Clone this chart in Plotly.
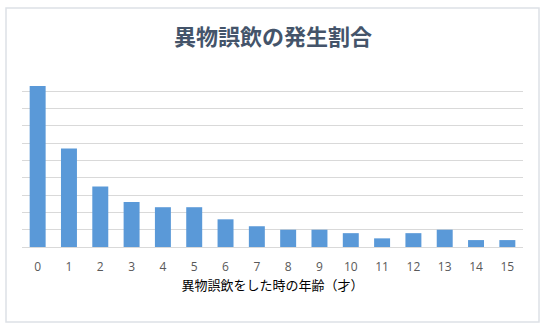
import plotly.graph_objects as go

# Age at the time of swallowing a foreign object (years)
ages = [str(a) for a in range(16)]
# Share of cases per age (%)
share = [9.3, 5.7, 3.5, 2.6, 2.3, 2.3, 1.6, 1.2, 1.0, 1.0, 0.8, 0.5, 0.8, 1.0, 0.4, 0.4]

title_text = "異物誤飲の発生割合"
x_title = "異物誤飲をした時の年齢（才）"

W, H = 546, 329
L, R, T, B = 22, 23, 74, 82

fig = go.Figure(
    go.Bar(
        x=ages,
        y=share,
        marker=dict(color="#5a99d8", line=dict(width=0)),
        hoverinfo="x+y",
    )
)

fig.update_layout(
    width=W,
    height=H,
    margin=dict(l=L, r=R, t=T, b=B),
    paper_bgcolor="white",
    plot_bgcolor="white",
    bargap=0.49,
    showlegend=False,
    title=dict(
        text=f"<b>{title_text}</b>",
        x=0.5,
        xanchor="center",
        y=1 - 37 / H,
        yanchor="middle",
        font=dict(family="Noto Sans CJK JP", size=22, color="#44546A"),
    ),
    xaxis=dict(
        type="category",
        showgrid=False,
        showline=False,
        ticks="outside",
        ticklen=9,
        tickcolor="rgba(0,0,0,0)",
        tickfont=dict(family="Open Sans", size=12, color="#595959"),
        title=dict(
            text=x_title,
            standoff=3,
            font=dict(family="Noto Sans CJK JP", size=13, color="#000000"),
        ),
    ),
    yaxis=dict(
        range=[0, 10],
        dtick=1,
        showticklabels=False,
        showgrid=True,
        gridcolor="#d9d9d9",
        gridwidth=1,
        zeroline=True,
        zerolinecolor="#d9d9d9",
        zerolinewidth=1,
        showline=False,
    ),
)

# Light frame around the whole chart
fig.add_shape(
    type="rect",
    xref="paper",
    yref="paper",
    x0=(6 - L) / (W - L - R),
    x1=(539 - L) / (W - L - R),
    y0=((H - B) - 322) / (H - T - B),
    y1=((H - B) - 8) / (H - T - B),
    line=dict(color="#dde1e6", width=1.5),
    fillcolor="rgba(0,0,0,0)",
    layer="below",
)

fig.write_html("out.html")
